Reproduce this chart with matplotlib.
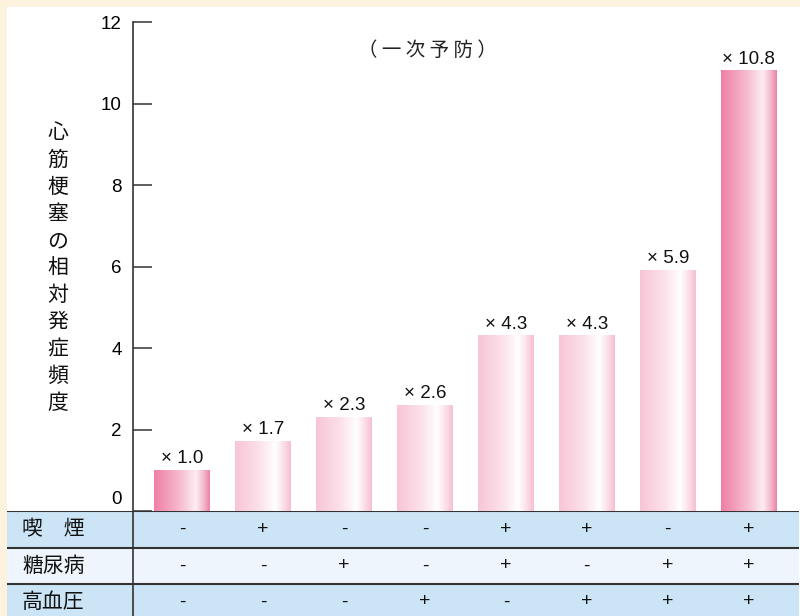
import matplotlib

matplotlib.use("Agg")
import matplotlib.pyplot as plt
import numpy as np
from matplotlib.colors import LinearSegmentedColormap
from matplotlib.patches import Rectangle

plt.rcParams["font.family"] = ["Noto Sans CJK JP", "DejaVu Sans"]

# data
groups = list(range(8))
risk_values = [1.0, 1.7, 2.3, 2.6, 4.3, 4.3, 5.9, 10.8]
value_labels = ["× 1.0", "× 1.7", "× 2.3", "× 2.6", "× 4.3", "× 4.3", "× 5.9", "× 10.8"]
row_names = ["喫　煙", "糖尿病", "高血圧"]
smoking = ["-", "+", "-", "-", "+", "+", "-", "+"]
diabetes = ["-", "-", "+", "-", "+", "-", "+", "+"]
hypertension = ["-", "-", "-", "+", "-", "+", "+", "+"]
y_ticks = [0, 2, 4, 6, 8, 10, 12]
title_text = "（ 一 次 予 防 ）"
ylabel_text = "心筋梗塞の相対発症頻度"

W, H = 800, 616
CREAM = "#FDF2DD"
BLUE = "#CBE5F6"
PALE = "#EEF5FC"
NUM_FONT = ["Liberation Sans", "DejaVu Sans"]

dark_cmap = LinearSegmentedColormap.from_list(
    "dark", [(0.0, "#EF7FA4"), (0.45, "#F6B9CD"), (0.75, "#FDEDF3"),
             (0.88, "#F5BCCF"), (1.0, "#EC82A6")])
light_cmap = LinearSegmentedColormap.from_list(
    "light", [(0.0, "#F8C5D5"), (0.45, "#FCE2EB"), (0.72, "#FFFFFF"),
              (0.88, "#FBDDE7"), (1.0, "#F6BFD1")])

fig = plt.figure(figsize=(W / 100, H / 100), dpi=100)
fig.patch.set_facecolor(CREAM)

# white panel
fig.add_artist(Rectangle((7 / W, 0), 1 - 7 / W, 1 - 7 / H, transform=fig.transFigure,
                         facecolor="white", edgecolor="none", zorder=0))

ax_left, ax_right = 133, 799
ax_top, ax_bottom = 22, 511
ax = fig.add_axes([ax_left / W, 1 - ax_bottom / H, (ax_right - ax_left) / W, (ax_bottom - ax_top) / H])
ax.set_facecolor("none")
xmin, xmax = -0.605, 7.62

bar_w = 0.69
bars = ax.bar(groups, risk_values, width=bar_w, color="none", edgecolor="none")
grad = np.linspace(0, 1, 256).reshape(1, -1)
for i, (b, v) in enumerate(zip(bars, risk_values)):
    cmap = dark_cmap if i in (0, 7) else light_cmap
    x0 = b.get_x()
    ax.imshow(grad, cmap=cmap, aspect="auto", extent=(x0, x0 + bar_w, 0, v),
              interpolation="bilinear", zorder=2)
    ax.text(groups[i], v + 0.08, value_labels[i], ha="center", va="bottom", fontsize=13.5,
            color="#111111", family=NUM_FONT)

ax.set_xlim(xmin, xmax)
ax.set_ylim(0, 12)
for s in ["top", "right", "bottom"]:
    ax.spines[s].set_visible(False)
ax.spines["left"].set_color("#333333")
ax.spines["left"].set_linewidth(1.2)
ax.set_xticks([])
ax.set_yticks(y_ticks)
ax.set_yticklabels(["" if t == 0 else str(t) for t in y_ticks], fontsize=13.5, family=NUM_FONT)
ax.tick_params(axis="y", direction="in", length=14, width=1.1, color="#333333", pad=8)
# the zero label sits just above the table line
ax.annotate("0", xy=(0, 0), xycoords=("axes fraction", "data"), xytext=(-8, 2),
            textcoords="offset points", ha="right", va="bottom", fontsize=13.5, family=NUM_FONT)

ax.text(3.03, 11.3, title_text, ha="center", va="center", fontsize=14, color="#222222")

for k, ch in enumerate(ylabel_text):
    fig.text(58 / W, 1 - (133 + k * 27) / H, ch, ha="center", va="center", fontsize=15, color="#111111")

# table below the chart
px_per_unit = (ax_right - ax_left) / (xmax - xmin)
tab = fig.add_axes([7 / W, 0, (ax_right - 7) / W, (H - ax_bottom) / H])
tab_xmin = xmin - (ax_left - 7) / px_per_unit
tab.set_xlim(tab_xmin, xmax)
tab.set_ylim(H - ax_bottom, 0)
tab.axis("off")

row_edges = [0, 37, 73, 105]
row_colors = [BLUE, PALE, BLUE]
rows = [smoking, diabetes, hypertension]
for r in range(3):
    y0, y1 = row_edges[r], row_edges[r + 1]
    tab.axhspan(y0, y1, color=row_colors[r], zorder=0)
    yc = (y0 + y1) / 2 if r < 2 else y0 + 18
    tab.text(tab_xmin + 15 / px_per_unit, yc, row_names[r], ha="left", va="center",
             fontsize=15, color="#111111")
    for g, sym in zip(groups, rows[r]):
        tab.text(g, yc, sym, ha="center", va="center", fontsize=14, color="#111111",
                 family=NUM_FONT)
for yl in row_edges[:3]:
    tab.axhline(yl, color="#333333", lw=1.5, zorder=3)
tab.axvline(xmin, color="#333333", lw=1.2, zorder=3)

fig.savefig("out.png", dpi=100, facecolor=CREAM)
